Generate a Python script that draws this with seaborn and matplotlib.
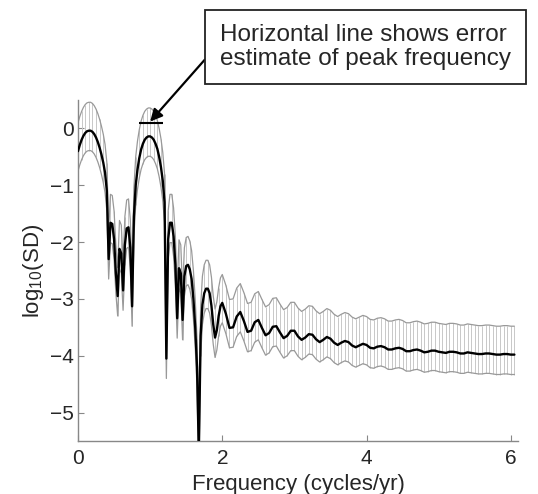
import numpy as np
import matplotlib
matplotlib.use("Agg")
import matplotlib.pyplot as plt
import seaborn as sns

# frequency grid (cycles/yr): 0.025 steps up to 2, then 0.05 steps up to 6.05
freq = np.round(np.r_[np.arange(81) * 0.025, 2.0 + np.arange(1, 82) * 0.05], 3)

# log10 of spectral density (thick black line)
log_sd = [
    -0.40, -0.29, -0.20, -0.13, -0.08, -0.05, -0.04, -0.04, -0.06, -0.10,
    -0.16, -0.24, -0.34, -0.46, -0.60, -0.78, -1.10, -2.30, -1.66, -1.68,
    -1.95, -2.55, -2.95, -2.12, -2.20, -2.85, -2.05, -1.76, -1.74, -2.10,
    -3.13, -1.55, -1.00, -0.72, -0.52, -0.37, -0.27, -0.20, -0.16, -0.14,
    -0.14, -0.16, -0.20, -0.27, -0.36, -0.50, -0.68, -0.92, -1.30, -4.05,
    -1.95, -1.66, -1.66, -1.90, -2.40, -3.34, -2.46, -2.55, -3.37, -2.60,
    -2.42, -2.40, -2.48, -2.65, -3.00, -3.50, -4.20, -5.70, -3.65, -3.10,
    -2.90, -2.82, -2.82, -2.90, -3.12, -3.45, -3.68, -3.55, -3.30, -3.13,
    -3.07,
    -3.26, -3.51, -3.50, -3.31, -3.23, -3.39, -3.58, -3.56, -3.41, -3.37,
    -3.51, -3.64, -3.60, -3.49, -3.48, -3.59, -3.69, -3.65, -3.56, -3.56,
    -3.66, -3.72, -3.68, -3.62, -3.63, -3.71, -3.76, -3.72, -3.67, -3.70,
    -3.77, -3.81, -3.77, -3.74, -3.76, -3.82, -3.85, -3.82, -3.79, -3.81,
    -3.86, -3.87, -3.84, -3.83, -3.85, -3.89, -3.89, -3.87, -3.86, -3.88,
    -3.92, -3.92, -3.90, -3.89, -3.91, -3.94, -3.93, -3.91, -3.91, -3.93,
    -3.94, -3.95, -3.93, -3.93, -3.94, -3.96, -3.96, -3.94, -3.95, -3.96,
    -3.97, -3.97, -3.96, -3.96, -3.97, -3.98, -3.98, -3.97, -3.97, -3.98,
    -3.98,
]

# upper confidence bound
upper = [
    0.10, 0.21, 0.30, 0.37, 0.42, 0.45, 0.46, 0.46, 0.44, 0.40,
    0.34, 0.26, 0.16, 0.04, -0.10, -0.28, -0.60, -1.80, -1.16, -1.18,
    -1.45, -2.05, -2.45, -1.62, -1.70, -2.35, -1.55, -1.26, -1.24, -1.60,
    -2.63, -1.05, -0.50, -0.22, -0.02, 0.13, 0.23, 0.30, 0.34, 0.36,
    0.36, 0.34, 0.30, 0.23, 0.14, 0.00, -0.18, -0.42, -0.80, -3.55,
    -1.45, -1.16, -1.16, -1.40, -1.90, -2.84, -1.96, -2.05, -2.87, -2.10,
    -1.92, -1.90, -1.98, -2.15, -2.50, -3.00, -3.70, -5.20, -3.15, -2.60,
    -2.40, -2.32, -2.32, -2.40, -2.62, -2.95, -3.18, -3.05, -2.80, -2.63,
    -2.57,
    -2.76, -3.01, -3.00, -2.81, -2.73, -2.89, -3.08, -3.06, -2.91, -2.87,
    -3.01, -3.14, -3.10, -2.99, -2.98, -3.09, -3.19, -3.15, -3.06, -3.06,
    -3.16, -3.22, -3.18, -3.12, -3.13, -3.21, -3.26, -3.22, -3.17, -3.20,
    -3.27, -3.31, -3.27, -3.24, -3.26, -3.32, -3.35, -3.32, -3.29, -3.31,
    -3.36, -3.37, -3.34, -3.33, -3.35, -3.39, -3.39, -3.37, -3.36, -3.38,
    -3.42, -3.42, -3.40, -3.39, -3.41, -3.44, -3.43, -3.41, -3.41, -3.43,
    -3.44, -3.45, -3.43, -3.43, -3.44, -3.46, -3.46, -3.44, -3.45, -3.46,
    -3.47, -3.47, -3.46, -3.46, -3.47, -3.48, -3.48, -3.47, -3.47, -3.48,
    -3.48,
]

# lower confidence bound
lower = [
    -0.75, -0.64, -0.55, -0.48, -0.43, -0.40, -0.39, -0.39, -0.41, -0.45,
    -0.51, -0.59, -0.69, -0.81, -0.95, -1.13, -1.45, -2.65, -2.01, -2.03,
    -2.30, -2.90, -3.30, -2.47, -2.55, -3.20, -2.40, -2.11, -2.09, -2.45,
    -3.48, -1.90, -1.35, -1.07, -0.87, -0.72, -0.62, -0.55, -0.51, -0.49,
    -0.49, -0.51, -0.55, -0.62, -0.71, -0.85, -1.03, -1.27, -1.65, -4.40,
    -2.30, -2.01, -2.01, -2.25, -2.75, -3.69, -2.81, -2.90, -3.72, -2.95,
    -2.77, -2.75, -2.83, -3.00, -3.35, -3.85, -4.55, -6.05, -4.00, -3.45,
    -3.25, -3.17, -3.17, -3.25, -3.47, -3.80, -4.03, -3.90, -3.65, -3.48,
    -3.42,
    -3.61, -3.86, -3.85, -3.66, -3.58, -3.74, -3.93, -3.91, -3.76, -3.72,
    -3.86, -3.99, -3.95, -3.84, -3.83, -3.94, -4.04, -4.00, -3.91, -3.91,
    -4.01, -4.07, -4.03, -3.97, -3.98, -4.06, -4.11, -4.07, -4.02, -4.05,
    -4.12, -4.16, -4.12, -4.09, -4.11, -4.17, -4.20, -4.17, -4.14, -4.16,
    -4.21, -4.22, -4.19, -4.18, -4.20, -4.24, -4.24, -4.22, -4.21, -4.23,
    -4.27, -4.27, -4.25, -4.24, -4.26, -4.29, -4.28, -4.26, -4.26, -4.28,
    -4.29, -4.30, -4.28, -4.28, -4.29, -4.31, -4.31, -4.29, -4.30, -4.31,
    -4.32, -4.32, -4.31, -4.31, -4.32, -4.33, -4.33, -4.32, -4.32, -4.33,
    -4.33,
]

# peak frequency and its error estimate (horizontal line)
peak_freq = 1.01
peak_freq_err = 0.17
peak_line_level = 0.10

note = "Horizontal line shows error\nestimate of peak frequency"

log_sd = np.array(log_sd)
upper = np.array(upper)
lower = np.array(lower)

sns.set_style("ticks")
plt.rcParams["font.family"] = ["Liberation Sans", "DejaVu Sans"]
plt.rcParams["mathtext.default"] = "regular"

fig = plt.figure(figsize=(5.38, 4.94), dpi=100)
ax = fig.add_axes([78 / 538, 53 / 494, 440 / 538, 341 / 494])

# vertical error bars, one every 0.05 cycles/yr
bar = np.isclose(freq * 20, np.round(freq * 20))
ax.vlines(freq[bar], lower[bar], upper[bar], color="#c8c8c8", lw=0.7, zorder=1)

sns.lineplot(x=freq, y=upper, ax=ax, color="#999999", lw=0.9, estimator=None, zorder=2)
sns.lineplot(x=freq, y=lower, ax=ax, color="#999999", lw=0.9, estimator=None, zorder=2)
sns.lineplot(x=freq, y=log_sd, ax=ax, color="black", lw=1.7, estimator=None, zorder=3)

ax.hlines(peak_line_level, peak_freq - peak_freq_err, peak_freq + peak_freq_err,
          color="black", lw=1.5, zorder=4)

ax.set_xlim(0, 6.1)
ax.set_ylim(-5.5, 0.5)
ax.set_xticks([0, 2, 4, 6])
ax.set_yticks([-5, -4, -3, -2, -1, 0])
ax.tick_params(direction="in", length=4, color="#888888", labelsize=15, pad=3)
ax.tick_params(axis="x", pad=6)
for side in ["top", "right"]:
    ax.spines[side].set_visible(False)
for side in ["left", "bottom"]:
    ax.spines[side].set_color("#888888")
    ax.spines[side].set_linewidth(1.0)

ax.set_xlabel("Frequency (cycles/yr)", fontsize=16, labelpad=4)
ax.set_ylabel("log$_{10}$(SD)", fontsize=16, labelpad=3)

ax.annotate(note, xy=(peak_freq - 0.01, peak_line_level + 0.02), xycoords="data",
            xytext=(220, 447), textcoords="figure pixels",
            ha="left", va="center", fontsize=17.5, linespacing=1.1,
            bbox=dict(boxstyle="square,pad=0.6", fc="white", ec="#222222", lw=1.3),
            arrowprops=dict(arrowstyle="-|>", color="black", lw=1.6,
                            mutation_scale=18, shrinkA=0, shrinkB=0,
                            relpos=(0, 0.6)))

fig.savefig("out.png", dpi=100)
